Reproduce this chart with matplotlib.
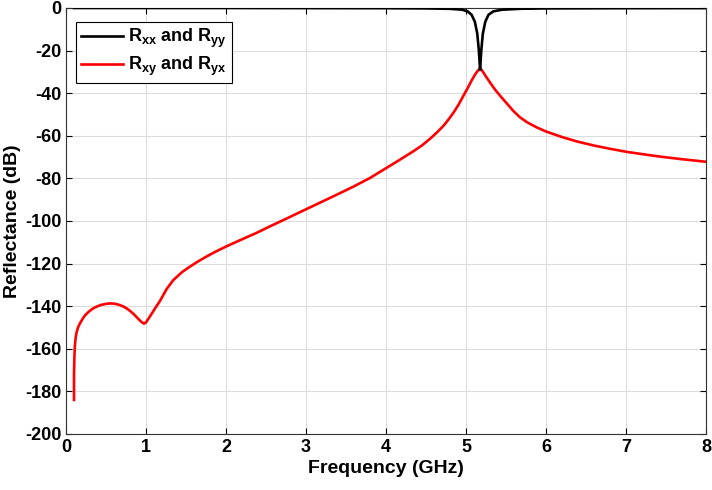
import numpy as np
import matplotlib
matplotlib.use('Agg')
import matplotlib.pyplot as plt

plt.rcParams['font.family'] = ['Liberation Sans', 'DejaVu Sans']
plt.rcParams['font.weight'] = 'bold'
plt.rcParams['axes.unicode_minus'] = False
plt.rcParams['mathtext.fontset'] = 'custom'
plt.rcParams['mathtext.rm'] = 'Liberation Sans:bold'
plt.rcParams['mathtext.it'] = 'Liberation Sans:bold'
plt.rcParams['mathtext.bf'] = 'Liberation Sans:bold'

# co-polarised reflectance (Rxx, Ryy)
freq_co = [0.1, 1.0, 2.0, 3.0, 4.0, 4.5, 4.8, 4.95, 5.02, 5.07, 5.11, 5.14, 5.16,
           5.175, 5.19, 5.21, 5.24, 5.28, 5.34, 5.45, 5.7, 6.0, 7.0, 8.0]
r_co = [0.0, 0.0, 0.0, -0.05, -0.1, -0.2, -0.4, -0.8, -1.6, -3.2, -6.5, -12.0, -20.0,
        -29.0, -20.0, -12.0, -6.5, -3.2, -1.6, -0.8, -0.35, -0.2, -0.1, -0.05]

# cross-polarised reflectance (Rxy, Ryx)
freq_cross = [0.1, 0.1, 0.105, 0.11, 0.12, 0.13, 0.15, 0.175, 0.21, 0.24, 0.29,
              0.34, 0.40, 0.45, 0.50, 0.55, 0.60, 0.64, 0.68, 0.72, 0.76, 0.80,
              0.84, 0.88, 0.91, 0.94, 0.975, 1.0, 1.03, 1.07, 1.11, 1.175, 1.26,
              1.34, 1.45, 1.55, 1.65, 1.76, 1.88, 2.0, 2.2, 2.38, 2.55, 2.72, 2.86,
              3.0, 3.18, 3.42, 3.59, 3.8, 4.0, 4.17, 4.34, 4.45, 4.55, 4.64, 4.72,
              4.78, 4.84, 4.9, 4.97, 5.02, 5.07, 5.11, 5.14, 5.16, 5.175, 5.19,
              5.21, 5.24, 5.3, 5.36, 5.43, 5.5, 5.59, 5.67, 5.76, 5.88, 6.0, 6.2,
              6.38, 6.6, 6.8, 7.0, 7.2, 7.43, 7.7, 8.0]
r_cross = [-184.0, -172.0, -164.0, -159.0, -155.0, -152.6, -150.0, -148.0, -145.8,
           -144.2, -142.4, -141.0, -139.9, -139.3, -138.9, -138.7, -138.8, -139.1,
           -139.6, -140.2, -141.1, -142.2, -143.5, -145.0, -146.2, -147.3, -148.2,
           -147.6, -145.9, -143.6, -141.2, -137.5, -131.8, -127.8, -124.0, -121.4,
           -119.0, -116.6, -114.2, -112.0, -108.6, -105.6, -102.5, -99.5, -97.0,
           -94.5, -91.3, -87.0, -83.9, -79.8, -75.2, -71.3, -67.3, -64.5, -61.4,
           -58.3, -55.2, -52.4, -49.3, -45.8, -41.0, -37.6, -34.0, -31.4, -29.8,
           -28.9, -28.6, -28.9, -29.9, -31.7, -35.0, -38.2, -41.4, -44.4, -48.3,
           -51.2, -53.6, -56.0, -58.0, -60.6, -62.6, -64.6, -66.1, -67.5, -68.6,
           -69.8, -71.0, -72.2]

fig = plt.figure(figsize=(7.12, 4.9), dpi=100)
ax = fig.add_axes([0.0927, 0.1143, 0.899, 0.8694])

ax.plot(freq_co, r_co, color='black', lw=1.9, label=r'R$_{xx}$ and R$_{yy}$', zorder=3)
ax.plot(freq_cross, r_cross, color='#ff0000', lw=1.9, label=r'R$_{xy}$ and R$_{yx}$', zorder=2)

ax.set_xlim(0, 8)
ax.set_ylim(-200, 0)
ax.set_xticks(np.arange(0, 9, 1))
ax.set_yticks(np.arange(-200, 1, 20))
ax.grid(True, color='#dcdcdc', lw=0.8)
ax.set_axisbelow(True)
ax.tick_params(direction='in', top=True, right=True, labelsize=13, length=4, width=0.8)
for s in ax.spines.values():
    s.set_linewidth(0.8)
    s.set_color('#333333')

ax.set_xlabel('Frequency (GHz)', fontsize=14, fontweight='bold', labelpad=3)
ax.set_ylabel('Reflectance (dB)', fontsize=14, fontweight='bold', labelpad=3)

leg = ax.legend(loc='upper left', bbox_to_anchor=(0.015, 0.968), fontsize=13,
                fancybox=False, framealpha=1, edgecolor='black', handlelength=2.3,
                borderpad=0.3, labelspacing=0.25, handletextpad=0.3, borderaxespad=0)
leg.get_frame().set_linewidth(0.8)

fig.savefig('out.png', dpi=100)
